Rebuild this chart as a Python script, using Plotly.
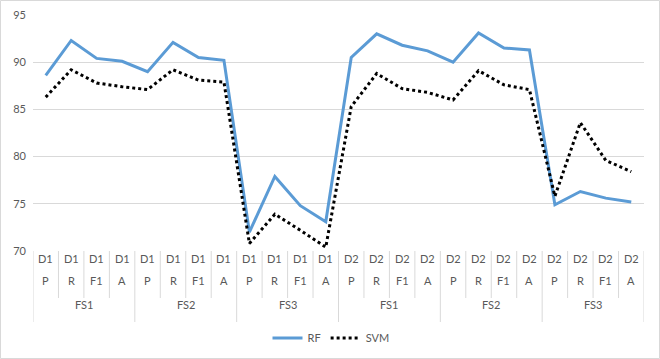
import plotly.graph_objects as go

# three-level category axis
datasets = ["D1"] * 12 + ["D2"] * 12
metrics = ["P", "R", "F1", "A"] * 6
feature_sets = ["FS1", "FS2", "FS3", "FS1", "FS2", "FS3"]

rf = [88.6, 92.3, 90.4, 90.1, 89.0, 92.1, 90.5, 90.2, 72.0, 77.9, 74.8, 73.1,
      90.5, 93.0, 91.8, 91.2, 90.0, 93.1, 91.5, 91.3, 74.9, 76.3, 75.6, 75.2]
svm = [86.3, 89.2, 87.8, 87.4, 87.1, 89.2, 88.1, 87.9, 70.8, 73.9, 72.2, 70.4,
       85.3, 88.8, 87.2, 86.8, 86.0, 89.1, 87.6, 87.1, 75.8, 83.6, 79.6, 78.4]

GREY = "#595959"
LINE = "#d9d9d9"
FONT = "Lato"

W, H = 660, 359
L, R, T, B = 33, 16, 15, 108
pw, ph = W - L - R, H - T - B

def py(pix):
    # pixel row -> paper y
    return (H - B - pix) / ph

xs = list(range(len(rf)))

fig = go.Figure()
fig.add_trace(go.Scatter(x=xs, y=rf, mode="lines", name="RF",
                         line=dict(color="#5b9bd5", width=3)))
fig.add_trace(go.Scatter(x=xs, y=svm, mode="lines", name="SVM",
                         line=dict(color="black", width=3, dash="dot")))

annotations = []
shapes = []
for i in xs:
    annotations.append(dict(x=i, y=py(267), xref="x", yref="paper", text=datasets[i],
                            showarrow=False, font=dict(size=11, color=GREY, family=FONT)))
    annotations.append(dict(x=i, y=py(289), xref="x", yref="paper", text=metrics[i],
                            showarrow=False, font=dict(size=11, color=GREY, family=FONT)))
for g, name in enumerate(feature_sets):
    annotations.append(dict(x=g * 4 + 1.5, y=py(313), xref="x", yref="paper", text=name,
                            showarrow=False, font=dict(size=11, color=GREY, family=FONT)))

for b in range(len(rf) + 1):
    bottom = py(322) if b % 4 == 0 else py(298)
    shapes.append(dict(type="line", xref="x", yref="paper", x0=b - 0.5, x1=b - 0.5,
                       y0=0, y1=bottom, line=dict(color=LINE, width=1)))

# chart border
shapes.append(dict(type="rect", xref="paper", yref="paper",
                   x0=(0.5 - L) / pw, x1=(W - 0.5 - L) / pw,
                   y0=py(H - 0.5), y1=py(0.5), line=dict(color=LINE, width=1)))

fig.update_layout(
    width=W, height=H,
    margin=dict(l=L, r=R, t=T, b=B, autoexpand=False),
    plot_bgcolor="white", paper_bgcolor="white",
    font=dict(family=FONT, size=11, color=GREY),
    showlegend=True,
    legend=dict(orientation="h", x=(331 - L) / pw, xanchor="center", y=py(338),
                yanchor="middle", font=dict(size=11, color=GREY, family=FONT)),
    annotations=annotations,
    shapes=shapes,
)
fig.update_xaxes(range=[-0.5, len(rf) - 0.5], showticklabels=False, showgrid=False,
                 zeroline=False, showline=False, fixedrange=True, automargin=False)
fig.update_yaxes(range=[70, 95], dtick=5, gridcolor=LINE, gridwidth=1, zeroline=False,
                 showline=False, ticks="", tickfont=dict(size=11, color=GREY, family=FONT),
                 ticklabelstandoff=6, fixedrange=True, automargin=False)

fig.write_html("out.html", config={"displayModeBar": False},
               post_script="document.body.style.margin='0';")
